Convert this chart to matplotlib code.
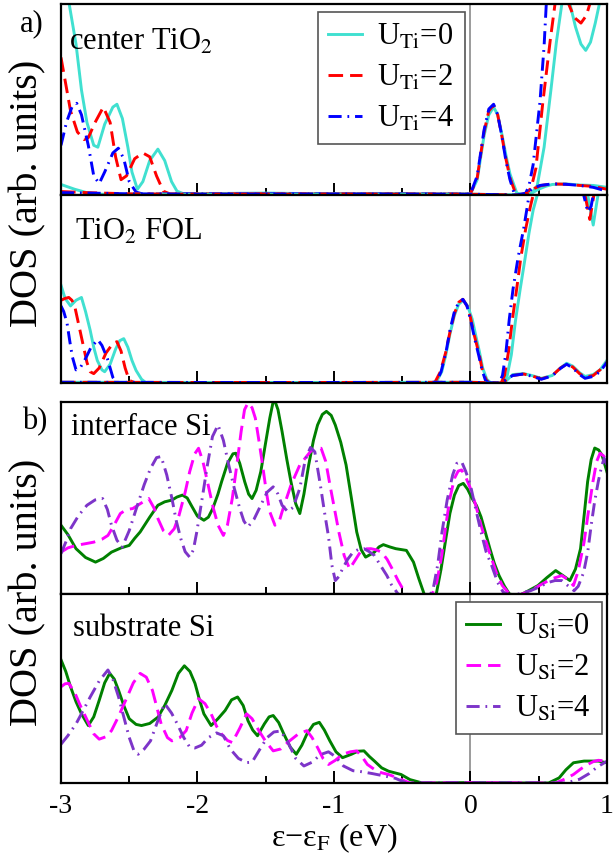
import numpy as np
import matplotlib
matplotlib.use("Agg")
import matplotlib.pyplot as plt
from matplotlib.ticker import MultipleLocator

plt.rcParams['font.family'] = ['Liberation Serif', 'DejaVu Serif']
plt.rcParams['mathtext.fontset'] = 'stix'
plt.rcParams['axes.unicode_minus'] = False
plt.rcParams['xtick.labelsize'] = 20

# ---- a) TiO2 layers, (energy eV, DOS) pairs; DOS in units of panel height ----
ctr_u0 = [(-3.0, 1.4), (-2.94, 1.0), (-2.89, 0.79), (-2.85, 0.55), (-2.81, 0.38), (-2.76, 0.26),
          (-2.73, 0.25), (-2.68, 0.37), (-2.62, 0.46), (-2.59, 0.475), (-2.55, 0.40), (-2.51, 0.25),
          (-2.48, 0.12), (-2.44, 0.03), (-2.40, 0.07), (-2.35, 0.18), (-2.29, 0.24), (-2.24, 0.18),
          (-2.19, 0.07), (-2.15, 0.02), (-2.10, 0.006), (-1.8, 0.008), (-1.5, 0.01), (-1.2, 0.007),
          (-0.9, 0.006), (-0.6, 0.008), (-0.3, 0.005), (0.0, 0.005), (0.05, 0.08), (0.10, 0.31),
          (0.135, 0.42), (0.17, 0.46), (0.20, 0.42), (0.23, 0.32), (0.26, 0.21), (0.29, 0.11),
          (0.34, 0.01), (0.40, 0.0), (0.44, 0.0), (0.49, 0.05), (0.54, 0.25), (0.59, 0.55),
          (0.63, 0.8), (0.67, 1.0), (0.70, 1.03), (0.73, 1.0), (0.77, 0.88), (0.81, 0.79),
          (0.845, 0.757), (0.88, 0.80), (0.915, 0.9), (0.945, 1.0), (1.0, 1.25)]
ctr_u2 = [(-3.0, 0.72), (-2.97, 0.6), (-2.93, 0.44), (-2.88, 0.33), (-2.83, 0.29), (-2.8, 0.30),
          (-2.75, 0.38), (-2.69, 0.46), (-2.64, 0.38), (-2.6, 0.2), (-2.56, 0.08), (-2.52, 0.1),
          (-2.46, 0.19), (-2.40, 0.22), (-2.35, 0.2), (-2.3, 0.1), (-2.25, 0.02), (-2.2, 0.005),
          (-1.6, 0.008), (-1.0, 0.007), (-0.5, 0.006), (0.0, 0.005), (0.05, 0.09), (0.10, 0.33),
          (0.135, 0.44), (0.17, 0.47), (0.20, 0.42), (0.23, 0.31), (0.26, 0.19), (0.29, 0.09),
          (0.33, 0.01), (0.37, 0.0), (0.415, 0.0), (0.45, 0.05), (0.48, 0.14), (0.53, 0.48),
          (0.585, 0.81), (0.62, 1.0), (0.67, 1.06), (0.72, 1.0), (0.76, 0.93), (0.81, 0.90),
          (0.85, 0.94), (0.875, 1.0), (0.92, 1.1), (1.0, 1.3)]
ctr_u4 = [(-3.0, 0.26), (-2.96, 0.38), (-2.92, 0.46), (-2.885, 0.48), (-2.85, 0.42), (-2.8, 0.26),
          (-2.76, 0.1), (-2.72, 0.06), (-2.68, 0.12), (-2.62, 0.22), (-2.58, 0.245), (-2.54, 0.19),
          (-2.5, 0.07), (-2.45, 0.015), (-2.4, 0.005), (-1.7, 0.008), (-1.1, 0.007), (-0.5, 0.006),
          (0.0, 0.005), (0.05, 0.10), (0.10, 0.34), (0.135, 0.45), (0.17, 0.475), (0.20, 0.42),
          (0.23, 0.31), (0.26, 0.18), (0.29, 0.08), (0.32, 0.01), (0.36, 0.0), (0.40, 0.0),
          (0.43, 0.05), (0.46, 0.16), (0.51, 0.49), (0.54, 0.78), (0.556, 1.0), (0.6, 1.2),
          (0.8, 1.1), (1.0, 1.3)]
ctr_u0_low = [(-3.0, 0.055), (-2.9, 0.03), (-2.8, 0.01), (-2.7, 0.004), (-2.0, 0.004), (-1.0, 0.005),
              (0.0, 0.004), (0.40, 0.0), (0.45, 0.01), (0.5, 0.03), (0.55, 0.045), (0.6, 0.055),
              (0.7, 0.058), (0.8, 0.052), (0.9, 0.05), (1.0, 0.04)]
ctr_u2_low = [(-3.0, 0.018), (-2.8, 0.012), (-2.5, 0.006), (-2.0, 0.004), (-1.0, 0.005), (0.0, 0.004),
              (0.35, 0.0), (0.42, 0.01), (0.47, 0.035), (0.52, 0.05), (0.6, 0.058), (0.7, 0.056),
              (0.8, 0.05), (0.9, 0.045), (1.0, 0.03)]
ctr_u4_low = [(-3.0, 0.012), (-2.8, 0.01), (-2.5, 0.006), (-2.0, 0.004), (-1.0, 0.005), (0.0, 0.004),
              (0.34, 0.0), (0.41, 0.01), (0.46, 0.035), (0.51, 0.05), (0.6, 0.058), (0.7, 0.056),
              (0.8, 0.05), (0.9, 0.04), (1.0, 0.02)]

fol_u0 = [(-3.0, 0.52), (-2.97, 0.45), (-2.93, 0.41), (-2.89, 0.44), (-2.85, 0.455), (-2.82, 0.38),
          (-2.786, 0.28), (-2.76, 0.19), (-2.734, 0.12), (-2.70, 0.07), (-2.68, 0.06), (-2.64, 0.1),
          (-2.60, 0.18), (-2.57, 0.225), (-2.54, 0.236), (-2.51, 0.19), (-2.48, 0.12), (-2.45, 0.067),
          (-2.41, 0.02), (-2.38, 0.003), (-1.5, 0.002), (-0.3, 0.002), (-0.25, 0.005), (-0.21, 0.06),
          (-0.18, 0.15), (-0.15, 0.26), (-0.117, 0.36), (-0.085, 0.42), (-0.052, 0.44), (-0.02, 0.41),
          (0.013, 0.34), (0.04, 0.25), (0.065, 0.17), (0.09, 0.08), (0.12, 0.02), (0.15, 0.0),
          (0.24, 0.0), (0.27, 0.04), (0.30, 0.15), (0.33, 0.33), (0.365, 0.5), (0.40, 0.66),
          (0.43, 0.8), (0.46, 0.92), (0.49, 1.0), (0.55, 1.2), (0.8, 1.2), (0.86, 1.0), (0.9, 0.84),
          (0.935, 1.0), (0.97, 1.15), (1.0, 1.3)]
fol_u2 = [(-3.0, 0.44), (-2.97, 0.45), (-2.943, 0.455), (-2.92, 0.44), (-2.9, 0.41), (-2.87, 0.31),
          (-2.84, 0.21), (-2.81, 0.11), (-2.786, 0.06), (-2.76, 0.05), (-2.72, 0.08), (-2.67, 0.16),
          (-2.62, 0.21), (-2.59, 0.22), (-2.56, 0.17), (-2.53, 0.08), (-2.5, 0.014), (-2.46, 0.002),
          (-1.5, 0.002), (-0.3, 0.002), (-0.26, 0.004), (-0.22, 0.06), (-0.182, 0.16), (-0.15, 0.27),
          (-0.117, 0.37), (-0.085, 0.43), (-0.055, 0.445), (-0.025, 0.41), (0.0, 0.35), (0.03, 0.25),
          (0.065, 0.15), (0.09, 0.06), (0.117, 0.015), (0.14, 0.0), (0.225, 0.0), (0.25, 0.04),
          (0.28, 0.17), (0.31, 0.35), (0.339, 0.5), (0.37, 0.67), (0.405, 0.82), (0.44, 0.94),
          (0.46, 1.0), (0.52, 1.2), (0.78, 1.2), (0.84, 1.0), (0.875, 0.87), (0.905, 1.0),
          (0.94, 1.15), (1.0, 1.3)]
fol_u4 = [(-3.0, 0.41), (-2.98, 0.38), (-2.956, 0.32), (-2.935, 0.22), (-2.917, 0.14), (-2.89, 0.07),
          (-2.86, 0.08), (-2.82, 0.13), (-2.78, 0.19), (-2.73, 0.23), (-2.70, 0.2), (-2.66, 0.13),
          (-2.62, 0.03), (-2.59, 0.002), (-1.5, 0.002), (-0.3, 0.002), (-0.25, 0.004), (-0.215, 0.06),
          (-0.18, 0.16), (-0.15, 0.28), (-0.117, 0.38), (-0.085, 0.43), (-0.055, 0.445),
          (-0.025, 0.41), (0.0, 0.34), (0.03, 0.24), (0.06, 0.15), (0.085, 0.07), (0.11, 0.015),
          (0.135, 0.0), (0.21, 0.0), (0.235, 0.04), (0.26, 0.16), (0.285, 0.34), (0.3125, 0.5),
          (0.35, 0.67), (0.39, 0.82), (0.415, 0.93), (0.43, 1.0), (0.5, 1.2), (0.76, 1.2),
          (0.83, 1.0), (0.86, 0.91), (0.885, 0.94), (0.9, 1.0), (0.95, 1.2), (1.0, 1.3)]
fol_u0_low = [(-3.0, 0.004), (-2.0, 0.003), (-1.0, 0.003), (0.0, 0.004), (0.22, 0.0), (0.26, 0.01),
              (0.31, 0.045), (0.39, 0.05), (0.45, 0.04), (0.52, 0.025), (0.6, 0.04), (0.66, 0.08),
              (0.705, 0.105), (0.75, 0.09), (0.8, 0.055), (0.84, 0.035), (0.9, 0.045), (0.95, 0.07),
              (1.0, 0.12)]
fol_u2_low = [(-3.0, 0.004), (-2.0, 0.003), (-1.0, 0.003), (0.0, 0.004), (0.215, 0.0), (0.25, 0.01),
              (0.31, 0.04), (0.39, 0.048), (0.45, 0.038), (0.52, 0.022), (0.6, 0.04), (0.66, 0.08),
              (0.705, 0.10), (0.75, 0.085), (0.8, 0.05), (0.84, 0.03), (0.9, 0.04), (0.95, 0.07),
              (1.0, 0.11)]
fol_u4_low = [(-3.0, 0.004), (-2.0, 0.003), (-1.0, 0.003), (0.0, 0.004), (0.21, 0.0), (0.245, 0.01),
              (0.31, 0.04), (0.39, 0.048), (0.45, 0.036), (0.52, 0.02), (0.6, 0.038), (0.66, 0.078),
              (0.705, 0.10), (0.75, 0.08), (0.8, 0.045), (0.84, 0.025), (0.9, 0.035), (0.95, 0.06),
              (1.0, 0.11)]

# ---- b) Si layers ----
int_u0 = [(-3.0, 0.358), (-2.95, 0.31), (-2.89, 0.236), (-2.82, 0.19), (-2.747, 0.166), (-2.69, 0.185),
          (-2.63, 0.218), (-2.56, 0.24), (-2.5, 0.253), (-2.46, 0.29), (-2.42, 0.323), (-2.35, 0.40),
          (-2.29, 0.462), (-2.24, 0.48), (-2.1875, 0.489), (-2.15, 0.505), (-2.11, 0.515),
          (-2.075, 0.5), (-2.044, 0.46), (-2.0, 0.405), (-1.953, 0.384), (-1.92, 0.40),
          (-1.888, 0.445), (-1.85, 0.52), (-1.823, 0.585), (-1.78, 0.68), (-1.74, 0.73),
          (-1.719, 0.733), (-1.69, 0.68), (-1.654, 0.585), (-1.625, 0.52), (-1.60, 0.497),
          (-1.57, 0.54), (-1.536, 0.637), (-1.50, 0.79), (-1.47, 0.916), (-1.44, 1.02), (-1.41, 0.96),
          (-1.38, 0.846), (-1.345, 0.70), (-1.315, 0.585), (-1.28, 0.47), (-1.25, 0.419),
          (-1.22, 0.52), (-1.185, 0.672), (-1.15, 0.80), (-1.12, 0.88), (-1.085, 0.935),
          (-1.055, 0.951), (-1.02, 0.93), (-0.99, 0.88), (-0.95, 0.79), (-0.911, 0.672),
          (-0.87, 0.49), (-0.833, 0.323), (-0.80, 0.23), (-0.768, 0.192), (-0.735, 0.205),
          (-0.703, 0.218), (-0.67, 0.245), (-0.638, 0.257), (-0.59, 0.245), (-0.547, 0.236),
          (-0.469, 0.227), (-0.417, 0.166), (-0.378, 0.08), (-0.339, 0.0), (-0.30, -0.04),
          (-0.25, 0.0), (-0.215, 0.13), (-0.18, 0.288), (-0.15, 0.42), (-0.117, 0.515),
          (-0.085, 0.565), (-0.052, 0.576), (-0.02, 0.545), (0.013, 0.497), (0.045, 0.46),
          (0.078, 0.401), (0.11, 0.32), (0.143, 0.236), (0.175, 0.16), (0.21, 0.096), (0.25, 0.04),
          (0.286, 0.0), (0.35, -0.01), (0.42, 0.015), (0.495, 0.044), (0.56, 0.085), (0.625, 0.122),
          (0.68, 0.095), (0.729, 0.07), (0.77, 0.13), (0.807, 0.236), (0.835, 0.42), (0.859, 0.585),
          (0.885, 0.70), (0.911, 0.76), (0.94, 0.75), (0.964, 0.724), (1.0, 0.637)]
int_u2 = [(-3.0, 0.218), (-2.95, 0.24), (-2.89, 0.253), (-2.82, 0.262), (-2.76, 0.27), (-2.70, 0.285),
          (-2.656, 0.305), (-2.61, 0.36), (-2.565, 0.419), (-2.52, 0.44), (-2.474, 0.445),
          (-2.42, 0.47), (-2.357, 0.497), (-2.32, 0.45), (-2.29, 0.393), (-2.25, 0.33),
          (-2.213, 0.305), (-2.17, 0.34), (-2.135, 0.41), (-2.09, 0.53), (-2.057, 0.637),
          (-2.02, 0.73), (-1.992, 0.759), (-1.96, 0.69), (-1.927, 0.585), (-1.885, 0.45),
          (-1.849, 0.358), (-1.81, 0.305), (-1.78, 0.36), (-1.745, 0.497), (-1.71, 0.68),
          (-1.68, 0.846), (-1.655, 0.96), (-1.63, 0.995), (-1.60, 0.97), (-1.576, 0.916),
          (-1.55, 0.80), (-1.523, 0.672), (-1.495, 0.53), (-1.47, 0.428), (-1.432, 0.358),
          (-1.40, 0.38), (-1.38, 0.428), (-1.315, 0.567), (-1.25, 0.672), (-1.172, 0.742),
          (-1.13, 0.76), (-1.094, 0.759), (-1.06, 0.69), (-1.029, 0.567), (-0.995, 0.44),
          (-0.964, 0.323), (-0.925, 0.2), (-0.885, 0.131), (-0.85, 0.17), (-0.807, 0.218),
          (-0.77, 0.235), (-0.729, 0.236), (-0.69, 0.23), (-0.651, 0.218), (-0.61, 0.18),
          (-0.573, 0.131), (-0.53, 0.07), (-0.482, 0.01), (-0.42, -0.04), (-0.33, -0.04),
          (-0.28, 0.0), (-0.247, 0.06), (-0.21, 0.2), (-0.18, 0.358), (-0.15, 0.5), (-0.117, 0.602),
          (-0.09, 0.64), (-0.065, 0.646), (-0.035, 0.61), (0.0, 0.55), (0.04, 0.46), (0.078, 0.358),
          (0.115, 0.27), (0.156, 0.183), (0.195, 0.1), (0.234, 0.044), (0.28, 0.005), (0.34, -0.01),
          (0.44, 0.017), (0.52, 0.05), (0.6, 0.08), (0.67, 0.096), (0.715, 0.075), (0.755, 0.044),
          (0.79, 0.12), (0.833, 0.27), (0.865, 0.43), (0.898, 0.585), (0.925, 0.69), (0.95, 0.733),
          (0.975, 0.72), (1.0, 0.69)]
int_u4 = [(-3.0, 0.21), (-2.965, 0.27), (-2.93, 0.34), (-2.87, 0.41), (-2.81, 0.462), (-2.75, 0.49),
          (-2.695, 0.497), (-2.66, 0.44), (-2.63, 0.358), (-2.59, 0.28), (-2.552, 0.244),
          (-2.5, 0.33), (-2.448, 0.445), (-2.39, 0.57), (-2.344, 0.654), (-2.30, 0.71),
          (-2.266, 0.716), (-2.225, 0.62), (-2.187, 0.497), (-2.155, 0.38), (-2.122, 0.288),
          (-2.09, 0.22), (-2.057, 0.192), (-2.03, 0.23), (-2.005, 0.323), (-1.965, 0.5),
          (-1.927, 0.672), (-1.89, 0.82), (-1.849, 0.88), (-1.81, 0.8), (-1.771, 0.672),
          (-1.73, 0.55), (-1.69, 0.445), (-1.66, 0.38), (-1.63, 0.349), (-1.585, 0.39),
          (-1.536, 0.462), (-1.49, 0.53), (-1.445, 0.558), (-1.41, 0.52), (-1.38, 0.462),
          (-1.34, 0.43), (-1.30, 0.45), (-1.25, 0.55), (-1.21, 0.7), (-1.172, 0.763), (-1.14, 0.74),
          (-1.10, 0.57), (-1.07, 0.43), (-1.04, 0.30), (-1.015, 0.15), (-0.99, 0.07), (-0.965, 0.09),
          (-0.937, 0.131), (-0.9, 0.18), (-0.86, 0.218), (-0.82, 0.232), (-0.78, 0.236),
          (-0.74, 0.22), (-0.703, 0.2), (-0.66, 0.15), (-0.612, 0.096), (-0.58, 0.05),
          (-0.547, 0.017), (-0.50, -0.03), (-0.35, -0.05), (-0.30, -0.01), (-0.273, 0.026),
          (-0.24, 0.15), (-0.208, 0.323), (-0.17, 0.49), (-0.13, 0.62), (-0.1, 0.68), (-0.065, 0.69),
          (-0.035, 0.64), (0.0, 0.567), (0.04, 0.44), (0.078, 0.323), (0.115, 0.22), (0.156, 0.148),
          (0.2, 0.06), (0.24, 0.01), (0.3, -0.01), (0.44, 0.017), (0.5, 0.035), (0.57, 0.06),
          (0.62, 0.07), (0.67, 0.07), (0.72, 0.04), (0.76, 0.017), (0.79, 0.04), (0.83, 0.113),
          (0.86, 0.22), (0.885, 0.358), (0.91, 0.48), (0.937, 0.585), (0.96, 0.66), (0.98, 0.707),
          (1.0, 0.672)]

sub_u0 = [(-3.0, 0.652), (-2.965, 0.59), (-2.93, 0.509), (-2.89, 0.43), (-2.85, 0.366), (-2.80, 0.304),
          (-2.76, 0.35), (-2.72, 0.4375), (-2.68, 0.53), (-2.643, 0.58), (-2.61, 0.55),
          (-2.578, 0.49), (-2.54, 0.41), (-2.5, 0.34), (-2.45, 0.31), (-2.41, 0.304), (-2.35, 0.315),
          (-2.29, 0.348), (-2.24, 0.41), (-2.1875, 0.49), (-2.14, 0.58), (-2.096, 0.62),
          (-2.055, 0.59), (-2.018, 0.527), (-1.985, 0.44), (-1.953, 0.366), (-1.9, 0.304),
          (-1.85, 0.34), (-1.797, 0.384), (-1.75, 0.44), (-1.706, 0.455), (-1.665, 0.41),
          (-1.63, 0.33), (-1.595, 0.28), (-1.56, 0.25), (-1.51, 0.3125), (-1.475, 0.35),
          (-1.445, 0.357), (-1.405, 0.32), (-1.367, 0.259), (-1.32, 0.19), (-1.276, 0.152),
          (-1.235, 0.2), (-1.198, 0.259), (-1.15, 0.31), (-1.107, 0.321), (-1.07, 0.28),
          (-1.03, 0.223), (-0.985, 0.165), (-0.937, 0.134), (-0.872, 0.152), (-0.825, 0.168),
          (-0.78, 0.17), (-0.74, 0.14), (-0.703, 0.116), (-0.65, 0.08), (-0.6, 0.0625),
          (-0.508, 0.045), (-0.443, 0.018), (-0.352, 0.0), (0.0, 0.002), (0.3, 0.0), (0.573, 0.0),
          (0.65, 0.027), (0.7, 0.07), (0.755, 0.107), (0.833, 0.116), (0.937, 0.116), (1.0, 0.107)]
sub_u2 = [(-3.0, 0.509), (-2.97, 0.525), (-2.943, 0.527), (-2.9, 0.48), (-2.865, 0.42), (-2.8, 0.32),
          (-2.76, 0.26), (-2.72, 0.232), (-2.67, 0.245), (-2.63, 0.277), (-2.58, 0.35),
          (-2.526, 0.4375), (-2.47, 0.53), (-2.42, 0.58), (-2.375, 0.56), (-2.33, 0.49),
          (-2.266, 0.3125), (-2.22, 0.24), (-2.187, 0.223), (-2.13, 0.24), (-2.083, 0.277),
          (-2.04, 0.37), (-1.992, 0.446), (-1.945, 0.42), (-1.9, 0.366), (-1.86, 0.3),
          (-1.823, 0.259), (-1.78, 0.225), (-1.745, 0.214), (-1.69, 0.29), (-1.64, 0.366),
          (-1.6, 0.34), (-1.55, 0.277), (-1.5, 0.22), (-1.445, 0.17), (-1.39, 0.18), (-1.33, 0.22),
          (-1.26, 0.26), (-1.198, 0.277), (-1.16, 0.24), (-1.12, 0.1875), (-1.08, 0.13),
          (-1.04, 0.098), (-0.99, 0.12), (-0.937, 0.152), (-0.88, 0.165), (-0.833, 0.17),
          (-0.79, 0.135), (-0.755, 0.098), (-0.7, 0.07), (-0.651, 0.054), (-0.6, 0.045),
          (-0.534, 0.027), (-0.443, 0.0), (0.0, 0.002), (0.625, 0.0), (0.69, 0.02), (0.755, 0.045),
          (0.81, 0.075), (0.859, 0.098), (0.9, 0.113), (0.937, 0.12), (1.0, 0.116)]
sub_u4 = [(-3.0, 0.205), (-2.95, 0.25), (-2.89, 0.3125), (-2.84, 0.38), (-2.786, 0.455), (-2.72, 0.54),
          (-2.656, 0.598), (-2.62, 0.55), (-2.578, 0.455), (-2.54, 0.35), (-2.5, 0.241),
          (-2.465, 0.17), (-2.435, 0.152), (-2.39, 0.18), (-2.344, 0.223), (-2.29, 0.33),
          (-2.24, 0.42), (-2.19, 0.37), (-2.148, 0.3125), (-2.1, 0.24), (-2.057, 0.19),
          (-2.02, 0.185), (-1.97, 0.2), (-1.92, 0.24), (-1.86, 0.265), (-1.81, 0.25), (-1.76, 0.18),
          (-1.7, 0.13), (-1.64, 0.108), (-1.6, 0.11), (-1.55, 0.17), (-1.49, 0.24), (-1.44, 0.27),
          (-1.39, 0.275), (-1.34, 0.22), (-1.28, 0.13), (-1.22, 0.09), (-1.16, 0.11), (-1.1, 0.15),
          (-1.04, 0.165), (-0.99, 0.14), (-0.93, 0.09), (-0.86, 0.065), (-0.8, 0.06), (-0.72, 0.05),
          (-0.65, 0.04), (-0.55, 0.025), (-0.47, 0.0), (0.0, 0.002), (0.7, 0.0), (0.8, 0.02),
          (0.87, 0.05), (0.93, 0.085), (1.0, 0.115)]

ti_labels = ['U$_{\\mathrm{Ti}}$=0', 'U$_{\\mathrm{Ti}}$=2', 'U$_{\\mathrm{Ti}}$=4']
si_labels = ['U$_{\\mathrm{Si}}$=0', 'U$_{\\mathrm{Si}}$=2', 'U$_{\\mathrm{Si}}$=4']
ti_colors = ['#40e0d0', '#ff0000', '#0000ff']
si_colors = ['#008000', '#ff00ff', '#7d35c9']
dash_styles = ['-', (0, (5.0, 2.4)), (0, (4.5, 2.0, 0.6, 2.0))]
LW = 2.1

fig = plt.figure(figsize=(6.13, 8.65), dpi=100)
left, width = 0.0995, 0.8905
ax1 = fig.add_axes([left, 0.7746, width, 0.2208])
ax2 = fig.add_axes([left, 0.5572, width, 0.2174])
ax3 = fig.add_axes([left, 0.3133, width, 0.2220])
ax4 = fig.add_axes([left, 0.0948, width, 0.2185])


def draw_curves(ax, curves, colors):
    handles = []
    for pts, col, ls in zip(curves, colors, dash_styles):
        x, y = np.array(pts).T
        h, = ax.plot(x, y, color=col, lw=LW, linestyle=ls, solid_joinstyle='round',
                     dash_joinstyle='round')
        handles.append(h)
    return handles


def style_panel(ax, labels_on):
    ax.set_xlim(-3, 1)
    ax.set_ylim(0, 1)
    ax.set_yticks([])
    ax.xaxis.set_major_locator(MultipleLocator(1))
    ax.xaxis.set_minor_locator(MultipleLocator(0.5))
    ax.tick_params(axis='x', which='both', direction='in', bottom=True, top=False,
                   width=1.4, pad=8, labelbottom=labels_on)
    ax.tick_params(axis='x', which='major', length=9)
    ax.tick_params(axis='x', which='minor', length=5)
    for sp in ax.spines.values():
        sp.set_linewidth(1.6)
    ax.axvline(0, color='#808080', lw=1.1, zorder=0.5)


# a) TiO2 panels
h_ti = draw_curves(ax1, [ctr_u0, ctr_u2, ctr_u4], ti_colors)
draw_curves(ax1, [ctr_u0_low, ctr_u2_low, ctr_u4_low], ti_colors)
draw_curves(ax2, [fol_u0, fol_u2, fol_u4], ti_colors)
draw_curves(ax2, [fol_u0_low, fol_u2_low, fol_u4_low], ti_colors)

# b) Si panels
h_si = draw_curves(ax3, [int_u0, int_u2, int_u4], si_colors)
draw_curves(ax4, [sub_u0, sub_u2, sub_u4], si_colors)

for ax in (ax1, ax2, ax3):
    style_panel(ax, False)
style_panel(ax4, True)

ax1.text(0.015, 0.80, 'center TiO$_2$', transform=ax1.transAxes, fontsize=22, va='center')
ax2.text(0.025, 0.80, 'TiO$_2$ FOL', transform=ax2.transAxes, fontsize=22, va='center')
ax3.text(0.018, 0.865, 'interface Si', transform=ax3.transAxes, fontsize=22, va='center')
ax4.text(0.022, 0.82, 'substrate Si', transform=ax4.transAxes, fontsize=22, va='center')

leg_kw = dict(fontsize=22, handlelength=1.1, handletextpad=0.5, borderpad=0.35,
              labelspacing=0.38, fancybox=False, framealpha=1, borderaxespad=0)
leg1 = ax1.legend(h_ti, ti_labels, loc='upper left', bbox_to_anchor=(0.47, 0.958), **leg_kw)
leg2 = ax4.legend(h_si, si_labels, loc='upper left', bbox_to_anchor=(0.723, 0.958), **leg_kw)
for lg in (leg1, leg2):
    lg.get_frame().set_edgecolor('#555555')
    lg.get_frame().set_linewidth(1.2)

ax4.set_xlabel('ε−ε$_{\\mathrm{F}}$ (eV)', fontsize=23, labelpad=2)

fig.text(0.046, 0.776, 'DOS (arb. units)', rotation=90, fontsize=29, ha='center', va='center')
fig.text(0.046, 0.315, 'DOS (arb. units)', rotation=90, fontsize=29, ha='center', va='center')
fig.text(0.052, 0.973, 'a)', fontsize=22, ha='center', va='center')
fig.text(0.057, 0.513, 'b)', fontsize=22, ha='center', va='center')

fig.savefig('out.png', dpi=100)
